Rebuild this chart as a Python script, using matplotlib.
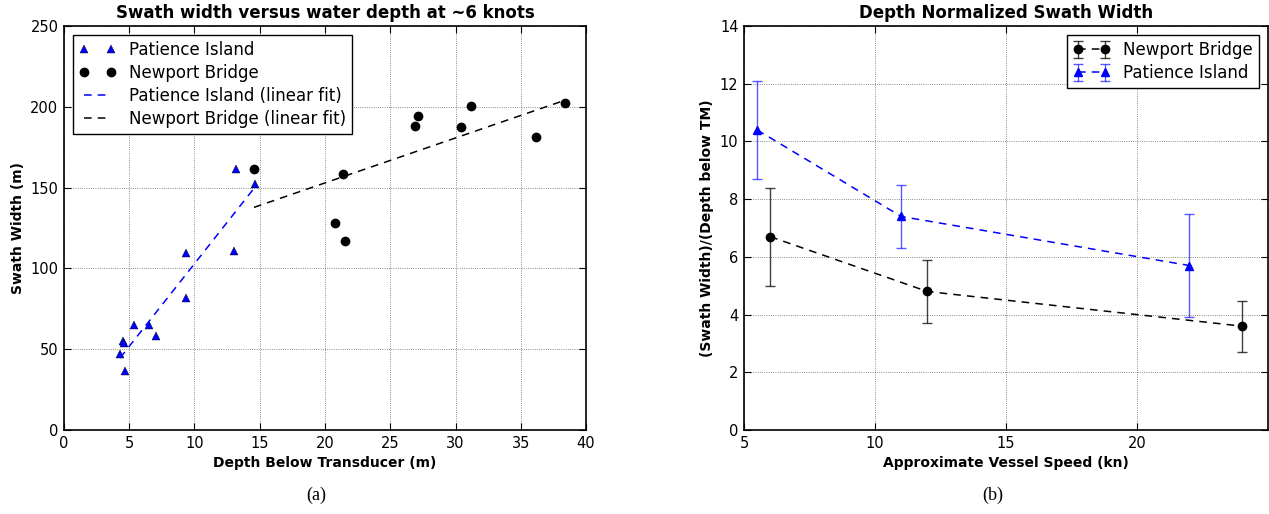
import numpy as np
import matplotlib
matplotlib.use("Agg")
import matplotlib.pyplot as plt

# panel (a): swath width vs depth at ~6 knots
pi_depth = [4.3, 4.5, 4.6, 4.7, 5.4, 6.5, 7.05, 9.35, 9.35, 13.2, 13.05, 14.66]
pi_swath = [47, 55, 54, 36.5, 65, 65, 58, 109.5, 81.5, 161.5, 110.5, 152.5]
nb_depth = [14.56, 21.35, 20.8, 21.56, 26.9, 27.1, 30.4, 31.16, 36.2, 38.4]
nb_swath = [161.5, 158.5, 128, 117, 188, 194.5, 187.5, 200.5, 181.5, 202.5]

# panel (b): depth normalized swath width vs vessel speed
nb_speed = [6.0, 12.0, 24.0]
nb_norm = [6.7, 4.8, 3.6]
nb_err = [1.7, 1.1, 0.88]
pi_speed = [5.5, 11.0, 22.0]
pi_norm = [10.4, 7.4, 5.7]
pi_err = [1.7, 1.1, 1.8]

plt.rcParams["font.family"] = "DejaVu Sans"
fig = plt.figure(figsize=(12.69, 5.14), dpi=100, facecolor="white")
ax1 = fig.add_axes([0.0504, 0.1634, 0.4114, 0.786])
ax2 = fig.add_axes([0.5863, 0.1634, 0.4129, 0.786])

dash = (0, (5, 4))

ax1.plot(pi_depth, pi_swath, "^", color="b", ms=6, mec="k", mew=0.3, label="Patience Island")
ax1.plot(nb_depth, nb_swath, "o", color="k", ms=6, label="Newport Bridge")
for xs, ys, c, name in [(pi_depth, pi_swath, "b", "Patience Island"),
                        (nb_depth, nb_swath, "k", "Newport Bridge")]:
    m, b = np.polyfit(xs, ys, 1)
    xx = np.array([min(xs), max(xs)])
    ax1.plot(xx, m * xx + b, color=c, ls=dash, lw=1.1, label=f"{name} (linear fit)")
ax1.set_xlim(0, 40)
ax1.set_ylim(0, 250)
ax1.set_xticks(np.arange(0, 41, 5))
ax1.set_yticks(np.arange(0, 251, 50))
ax1.set_title("Swath width versus water depth at ~6 knots", fontsize=12, fontweight="bold")
ax1.set_xlabel("Depth Below Transducer (m)", fontsize=10, fontweight="bold")
ax1.set_ylabel("Swath Width (m)", fontsize=10, fontweight="bold")
ax1.legend(loc="upper left", numpoints=2, fontsize=12, fancybox=False,
           edgecolor="k", framealpha=1, borderaxespad=0.55, handlelength=2.2,
           labelspacing=0.3, borderpad=0.35)

ax2.errorbar(nb_speed, nb_norm, yerr=nb_err, fmt="o", color="k", ls=dash, lw=1.1,
             ms=6, ecolor=(0, 0, 0, 0.75), elinewidth=1, capsize=3.5, label="Newport Bridge")
ax2.errorbar(pi_speed, pi_norm, yerr=pi_err, fmt="^", color="b", ls=dash, lw=1.1,
             ms=6, ecolor=(0, 0, 1, 0.65), elinewidth=1, capsize=3.5, label="Patience Island")
ax2.set_xlim(5, 25)
ax2.set_ylim(0, 14)
ax2.set_xticks([5, 10, 15, 20])
ax2.set_yticks(np.arange(0, 15, 2))
ax2.set_title("Depth Normalized Swath Width", fontsize=12, fontweight="bold")
ax2.set_xlabel("Approximate Vessel Speed (kn)", fontsize=10, fontweight="bold")
ax2.set_ylabel("(Swath Width)/(Depth below TM)", fontsize=10, fontweight="bold")
ax2.legend(loc="upper right", numpoints=2, fontsize=12, fancybox=False,
           edgecolor="k", framealpha=1, borderaxespad=0.55, handlelength=2.2,
           labelspacing=0.3, borderpad=0.35)

for ax in (ax1, ax2):
    ax.grid(True, ls=":", color="k", lw=0.6, alpha=0.6)
    ax.tick_params(direction="in", top=True, right=True, labelsize=10.5, length=5, pad=4)
    for s in ax.spines.values():
        s.set_linewidth(1.2)

fig.text(0.249, 0.027, "(a)", fontsize=13, family="Liberation Serif", ha="center")
fig.text(0.7825, 0.027, "(b)", fontsize=13, family="Liberation Serif", ha="center")

fig.savefig("out.png", dpi=100, facecolor="white")
